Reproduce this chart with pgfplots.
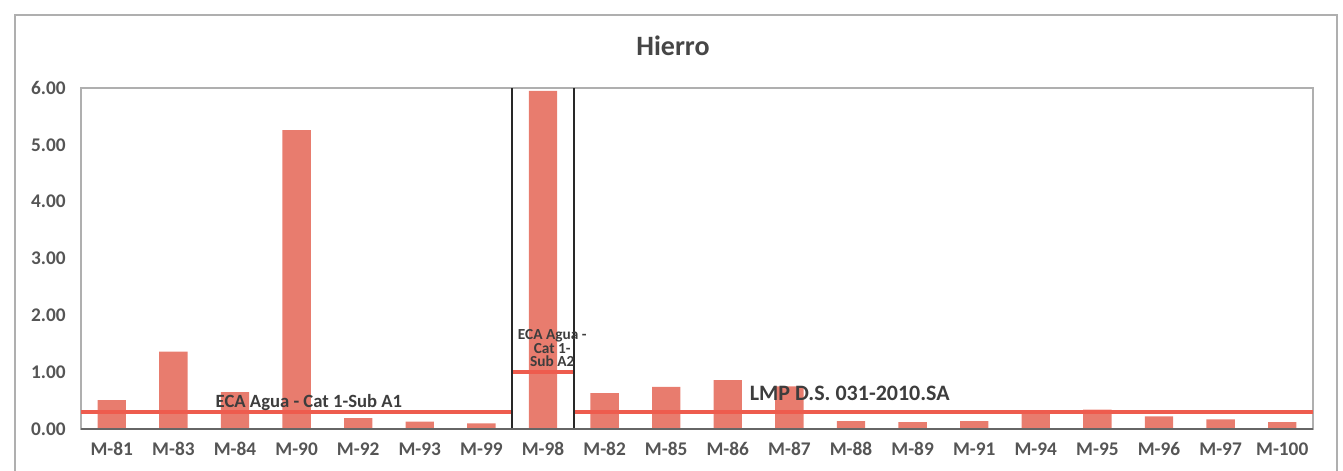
\documentclass[border=0pt]{standalone}
\usepackage{pgfplots}
\pgfplotsset{compat=1.18}
\usepackage{fontspec}
\setmainfont{Carlito}
\definecolor{barcol}{RGB}{232,124,110}
\definecolor{linecol}{RGB}{238,92,78}
\definecolor{tickcol}{RGB}{85,85,85}
\definecolor{titlecol}{RGB}{70,70,70}
\definecolor{framecol}{RGB}{175,175,175}
\definecolor{boxcol}{RGB}{40,40,40}
\begin{document}
\begin{tikzpicture}
\useasboundingbox (-60.75pt,-31.5pt) rectangle (946.5pt,321.75pt);
\draw[framecol, line width=0.8pt] (-49.5pt,-31.5pt) -- (-49.5pt,310.5pt) -- (942pt,310.5pt) -- (942pt,-31.5pt);
\begin{axis}[at={(0pt,0pt)}, anchor=south west,
  scale only axis, width=924pt, height=255.75pt,
  xmin=-0.5, xmax=19.5, ymin=0, ymax=6,
  xtick={0,...,19},
  xticklabels={M-81,M-83,M-84,M-90,M-92,M-93,M-99,M-98,M-82,M-85,M-86,M-87,M-88,M-89,M-91,M-94,M-95,M-96,M-97,M-100},
  ytick={0,1,2,3,4,5,6},
  major tick length=0pt,
  axis line style={draw=framecol, line width=0.8pt},
  tick label style={font=\fontsize{14.5}{16}\selectfont\bfseries, text=tickcol},
  xticklabel style={yshift=-6.5pt},
  yticklabel style={xshift=-8pt, /pgf/number format/.cd, fixed, fixed zerofill, precision=2, assume math mode=true},
  clip=false,
]
\addplot[ybar, bar width=0.46, fill=barcol, draw=none] coordinates {
(0,0.51) (1,1.36) (2,0.65) (3,5.26) (4,0.19) (5,0.13) (6,0.10) (7,5.95)
(8,0.63) (9,0.74) (10,0.86) (11,0.75) (12,0.14) (13,0.12) (14,0.14)
(15,0.32) (16,0.34) (17,0.22) (18,0.17) (19,0.12)};
\addplot[linecol, line width=2.5pt] coordinates {(-0.5,0.3) (6.5,0.3)};
\addplot[linecol, line width=2.5pt] coordinates {(6.5,1.0) (7.5,1.0)};
\addplot[linecol, line width=2.5pt] coordinates {(7.5,0.3) (19.5,0.3)};
\addplot[boxcol, line width=1.8pt] coordinates {(6.5,0) (6.5,6)};
\addplot[boxcol, line width=1.8pt] coordinates {(7.5,0) (7.5,6)};
\draw[gray!80!black, line width=0.9pt] (axis cs:-0.5,0) -- (axis cs:19.5,0);
\node[font=\fontsize{14}{16}\selectfont\bfseries, text=boxcol!90] at (axis cs:3.2,0.47) {ECA Agua - Cat 1-Sub A1};
\node[font=\fontsize{16.5}{20}\selectfont\bfseries, text=boxcol!90] at (axis cs:11.98,0.63) {LMP D.S. 031-2010.SA};
\node[align=center, font=\fontsize{11.5}{10}\selectfont\bfseries, text=boxcol!90, inner sep=0pt] at (axis cs:7.15,1.42) {ECA Agua -\\Cat 1-\\Sub A2};
\end{axis}
\node[font=\fontsize{21}{25}\selectfont\bfseries, text=titlecol] at (444pt,287.25pt) {Hierro};
\end{tikzpicture}
\end{document}
